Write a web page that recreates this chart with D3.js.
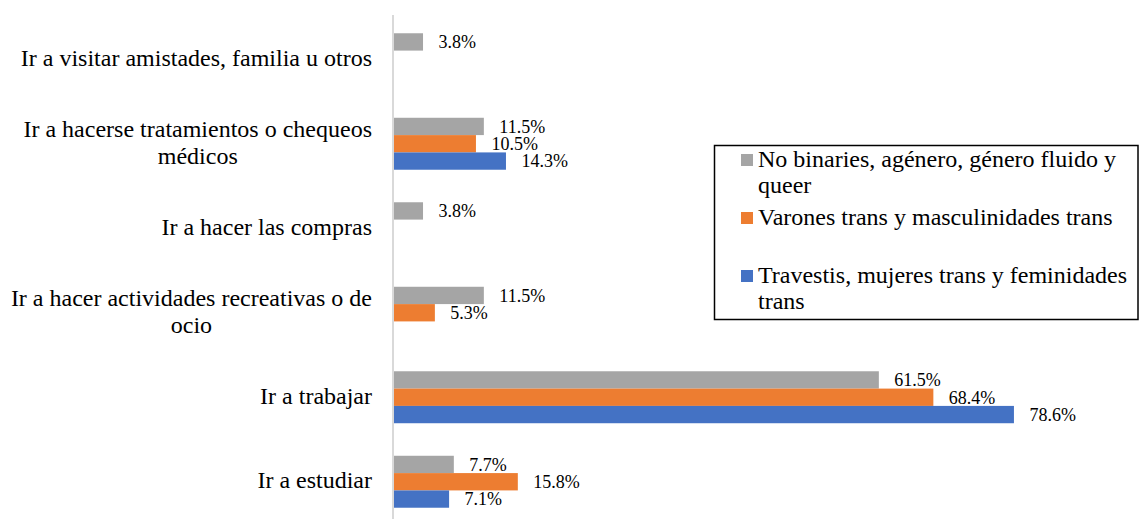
<!DOCTYPE html>
<html>
<head>
<meta charset="utf-8">
<script src="https://cdn.jsdelivr.net/npm/d3@7"></script>
<style>
  html, body { margin: 0; padding: 0; background: #fff; }
  svg { display: block; }
  text { fill: #000; }
</style>
</head>
<body>
<svg id="chart" width="1139" height="519"></svg>
<script>
// ---- Data ----
const categories = [
  ["Ir a visitar amistades, familia u otros"],
  ["Ir a hacerse tratamientos o chequeos", "médicos"],
  ["Ir a hacer las compras"],
  ["Ir a hacer actividades recreativas o de", "ocio"],
  ["Ir a trabajar"],
  ["Ir a estudiar"]
];
const seriesNames = [
  ["No binaries, agénero, género fluido y", "queer"],
  ["Varones trans y masculinidades trans"],
  ["Travestis, mujeres trans y feminidades", "trans"]
];
const seriesColors = ["#A5A5A5", "#ED7D31", "#4472C4"];
const noBinaries = [3.8, 11.5, 3.8, 11.5, 61.5, 7.7];
const varones    = [null, 10.5, null, 5.3, 68.4, 15.8];
const travestis  = [null, 14.3, null, null, 78.6, 7.1];
const seriesValues = [noBinaries, varones, travestis];

const FONT = "'Liberation Serif', Tinos, 'Times New Roman', Times, serif";

// ---- Layout ----
const svg = d3.select("#chart").attr("font-family", FONT);
const catKeys = categories.map(c => c.join(" "));
const y = d3.scaleBand().domain(catKeys).range([17, 524])
  .paddingInner(0.385).paddingOuter(0.1925);
const ySub = d3.scaleBand().domain([0, 1, 2]).range([0, y.bandwidth()]).padding(0);
const x = d3.scaleLinear().domain([0, 80]).range([393, 1025]);

const valFs = 18;
const catFs = 24;

// Bars
seriesValues.forEach((vals, si) => {
  const g = svg.append("g");
  vals.forEach((v, ci) => {
    if (v == null) return;
    const y0 = y(catKeys[ci]) + ySub(si);
    g.append("rect")
      .attr("x", x(0))
      .attr("y", y0)
      .attr("width", x(v) - x(0))
      .attr("height", ySub.bandwidth())
      .attr("fill", seriesColors[si]);
    g.append("text")
      .attr("x", x(v) + 15.5)
      .attr("y", y0 + ySub.bandwidth() / 2)
      .attr("dy", "0.35em")
      .attr("font-size", valFs)
      .text(v.toFixed(1) + "%");
  });
});

// Axis line
const axis = svg.append("g").attr("transform", `translate(${x(0)},0)`)
  .call(d3.axisLeft(y).tickSize(0).tickFormat(""));
axis.select(".domain").attr("stroke", "#D9D9D9").attr("stroke-width", 2)
  .attr("d", "M0,15V519");

// Category labels
const labelRight = 372;
categories.forEach((lines, ci) => {
  const cy = y(catKeys[ci]) + y.bandwidth() / 2;
  const lh = 27;
  const t = svg.append("text").attr("font-size", catFs);
  if (lines.length === 1) {
    t.attr("x", labelRight).attr("y", cy).attr("dy", "0.27em")
      .attr("text-anchor", "end").text(lines[0]);
  } else {
    t.attr("text-anchor", "middle");
    const tmp = svg.append("text").attr("font-size", catFs).text(lines[0]);
    const w = tmp.node().getComputedTextLength();
    tmp.remove();
    const cx = labelRight - w / 2;
    lines.forEach((ln, li) => {
      t.append("tspan").attr("x", cx)
        .attr("y", cy - lh / 2 * (lines.length - 1) + li * lh)
        .attr("dy", "0.27em").text(ln);
    });
  }
});

// Legend
const leg = svg.append("g");
leg.append("rect").attr("x", 714.5).attr("y", 145.5).attr("width", 423.5).attr("height", 174)
  .attr("fill", "#fff").attr("stroke", "#000").attr("stroke-width", 1.5);
const legendBaselines = [[167, 193], [225], [283, 308.5]];
seriesNames.forEach((lines, si) => {
  const b0 = legendBaselines[si][0];
  leg.append("rect").attr("x", 741).attr("y", b0 - 13).attr("width", 12).attr("height", 12)
    .attr("fill", seriesColors[si]);
  const t = leg.append("text").attr("font-size", catFs);
  lines.forEach((ln, li) => {
    t.append("tspan").attr("x", 758).attr("y", legendBaselines[si][li]).text(ln);
  });
});
</script>
</body>
</html>
